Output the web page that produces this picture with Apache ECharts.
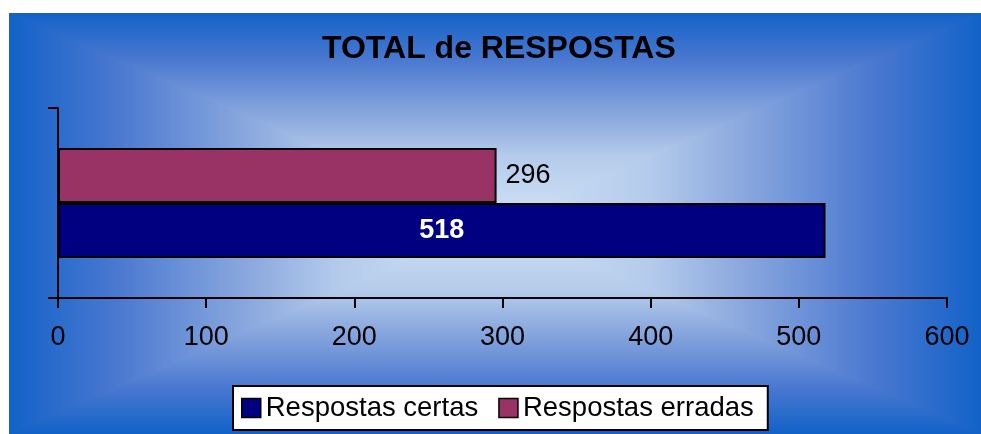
<!DOCTYPE html>
<html>
<head>
<meta charset="utf-8">
<script src="https://cdn.jsdelivr.net/npm/echarts@6/dist/echarts.min.js"></script>
<style>
  html, body { margin: 0; padding: 0; background: #ffffff; }
  #chart { width: 981px; height: 434px; }
</style>
</head>
<body>
<div id="chart"></div>
<script>
// Chart data
const categories = [''];
const seriesNames = ['Respostas certas', 'Respostas erradas'];
const certas = [518];
const erradas = [296];
const xTicks = { min: 0, max: 600, interval: 100 };

const chart = echarts.init(document.getElementById('chart'));

// Background panel: rectangular "from centre" gradient.
// A full rect carries the vertical gradient; two side triangles carry the horizontal one.
const bx0 = 9, by0 = 13, bx1 = 981, by1 = 434, cx = 495, cy = 223;
const stops = [
  { offset: 0, color: '#1262c8' },
  { offset: 0.22, color: '#4a78d0' },
  { offset: 0.49, color: '#8aa8de' },
  { offset: 0.68, color: '#b4cbeb' },
  { offset: 1, color: '#d2e3f5' }
];
// vertical gradient runs edge -> centre -> edge across the whole height
const mid = (cy - by0) / (by1 - by0);
const vStops = stops.map(s => ({ offset: s.offset * mid, color: s.color }))
  .concat(stops.slice(0, -1).reverse().map(s => ({ offset: 1 - s.offset * (1 - mid), color: s.color })));
const grad = (x, y, x2, y2, st) => new echarts.graphic.LinearGradient(x, y, x2, y2, st, true);

const font = 'Liberation Sans, Arial, sans-serif';

chart.setOption({
  animation: false,
  graphic: [
    {
      type: 'rect', silent: true, z: -10,
      shape: { x: bx0, y: by0, width: bx1 - bx0, height: by1 - by0 },
      style: { fill: grad(0, by0, 0, by1, vStops) }
    },
    {
      type: 'polygon', silent: true, z: -9,
      shape: { points: [[bx0, by0], [bx0, by1], [cx, cy]] },
      style: { fill: grad(bx0, 0, cx, 0, stops) }
    },
    {
      type: 'polygon', silent: true, z: -9,
      shape: { points: [[bx1, by0], [bx1, by1], [cx, cy]] },
      style: { fill: grad(bx1, 0, cx, 0, stops) }
    }
  ],
  title: {
    text: 'TOTAL de RESPOSTAS',
    left: 322,
    top: 33,
    padding: 0,
    textStyle: { fontFamily: font, fontSize: 32, fontWeight: 'bold', color: '#000' }
  },
  legend: {
    data: seriesNames,
    left: 233,
    top: 386,
    orient: 'horizontal',
    backgroundColor: '#ffffff',
    borderColor: '#000000',
    borderWidth: 2,
    borderRadius: 0,
    padding: [8, 14, 8, 8],
    itemWidth: 19,
    itemHeight: 19,
    itemGap: 20,
    icon: 'rect',
    itemStyle: { borderColor: '#000', borderWidth: 1.5 },
    textStyle: { fontFamily: font, fontSize: 27.5, color: '#000' }
  },
  grid: { left: 58, right: 34, top: 108, bottom: 136, containLabel: false },
  xAxis: {
    type: 'value',
    min: xTicks.min,
    max: xTicks.max,
    interval: xTicks.interval,
    axisLine: { show: true, lineStyle: { color: '#000', width: 2 } },
    axisTick: { show: true, length: 10, lineStyle: { color: '#000', width: 2 } },
    splitLine: { show: false },
    axisLabel: { fontFamily: font, fontSize: 27, color: '#000', margin: 26 }
  },
  yAxis: {
    type: 'category',
    data: categories,
    axisLine: { show: true, lineStyle: { color: '#000', width: 2 } },
    axisTick: { show: true, length: 10, lineStyle: { color: '#000', width: 2 } },
    axisLabel: { show: false },
    splitLine: { show: false }
  },
  // erradas listed first so it sits above certas inside the band
  series: [
    {
      name: seriesNames[1],
      type: 'bar',
      data: erradas,
      barWidth: 55,
      barGap: '0%',
      itemStyle: { color: '#993366', borderColor: '#000', borderWidth: 2 },
      label: {
        show: true, position: 'right', distance: 9,
        fontFamily: font, fontSize: 27, color: '#000'
      }
    },
    {
      name: seriesNames[0],
      type: 'bar',
      data: certas,
      barWidth: 55,
      barGap: '0%',
      itemStyle: { color: '#000080', borderColor: '#000', borderWidth: 2 },
      label: {
        show: true, position: 'inside',
        fontFamily: font, fontSize: 27, fontWeight: 'bold', color: '#ffffff'
      }
    }
  ]
});
</script>
</body>
</html>
